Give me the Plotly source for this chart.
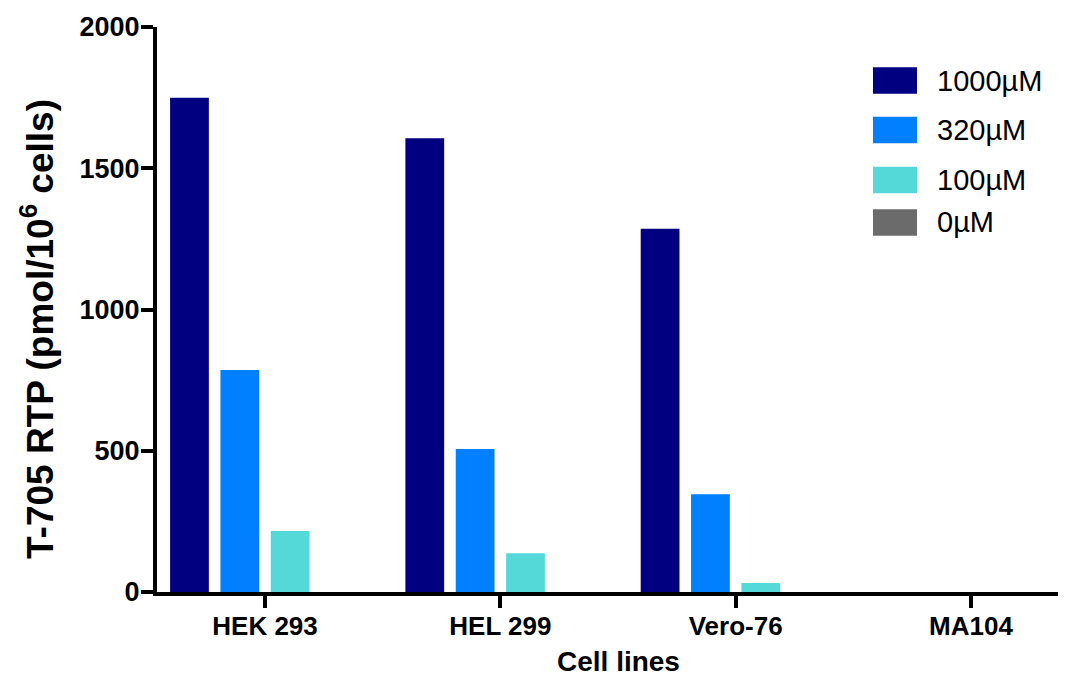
import plotly.graph_objects as go

# Cell lines on the x axis
cell_lines = ["HEK 293", "HEL 299", "Vero-76", "MA104"]

# T-705 RTP levels (pmol/10^6 cells) for each extracellular T-705 concentration
rtp_1000uM = [1750, 1606, 1286, 0]
rtp_320uM = [786, 506, 346, 0]
rtp_100uM = [216, 137, 32, 0]
rtp_0uM = [0, 0, 0, 0]

series_names = ["1000µM", "320µM", "100µM", "0µM"]
series_values = [rtp_1000uM, rtp_320uM, rtp_100uM, rtp_0uM]
series_colors = ["#000080", "#0080FF", "#55D8D8", "#6B6B6B"]

y_ticks = [0, 500, 1000, 1500, 2000]

FONT = "Liberation Sans, Arial, Helvetica, sans-serif"

fig = go.Figure()
for name, vals, col in zip(series_names, series_values, series_colors):
    fig.add_trace(go.Bar(
        x=cell_lines, y=vals, name=name,
        marker=dict(color=col, line=dict(width=0)),
        showlegend=False,
    ))

# Plot-area geometry in pixels (used for the hand-drawn legend and titles)
W, H = 1068, 678
ML, MR, MT, MB = 157, 10, 27, 86
PW, PH = W - ML - MR, H - MT - MB


def px_to_paper(px, py):
    return (px - ML) / PW, (H - MB - py) / PH


shapes = []
annotations = []
legend_rows = [80.5, 130.0, 180.0, 222.5]
for name, col, cy in zip(series_names, series_colors, legend_rows):
    x0, y0 = px_to_paper(873, cy + 13.3)
    x1, y1 = px_to_paper(917, cy - 13.3)
    shapes.append(dict(type="rect", xref="paper", yref="paper",
                       x0=x0, x1=x1, y0=y0, y1=y1,
                       fillcolor=col, line=dict(width=0)))
    tx, ty = px_to_paper(935, cy)
    annotations.append(dict(xref="paper", yref="paper", x=tx, y=ty,
                            xanchor="left", yanchor="middle", showarrow=False,
                            text=name, font=dict(family=FONT, size=29, color="black")))

# Axis titles
tx, ty = px_to_paper(37, 329)
annotations.append(dict(xref="paper", yref="paper", x=tx, y=ty,
                        xanchor="center", yanchor="middle", showarrow=False,
                        textangle=-90,
                        text="<b>T-705 RTP (pmol/10<sup>6</sup> cells)</b>",
                        font=dict(family=FONT, size=37, color="black")))
tx, ty = px_to_paper(618, 661)
annotations.append(dict(xref="paper", yref="paper", x=tx, y=ty,
                        xanchor="center", yanchor="middle", showarrow=False,
                        text="<b>Cell lines</b>",
                        font=dict(family=FONT, size=28, color="black")))

fig.update_layout(
    width=W, height=H,
    margin=dict(l=ML, r=MR, t=MT, b=MB, pad=0),
    plot_bgcolor="white", paper_bgcolor="white",
    barmode="group", bargap=0.144, bargroupgap=0.23,
    shapes=shapes, annotations=annotations,
    font=dict(family=FONT, color="black"),
    xaxis=dict(
        range=[-0.459, 3.370], automargin=False,
        showline=True, linecolor="black", linewidth=4,
        ticks="outside", ticklen=12, tickwidth=4, tickcolor="black",
        ticklabelstandoff=-4,
        tickfont=dict(family=FONT, size=26, color="black", weight="bold"),
        showgrid=False, zeroline=False,
    ),
    yaxis=dict(
        range=[0, 2000], tickvals=y_ticks, automargin=False,
        showline=True, linecolor="black", linewidth=4,
        ticks="outside", ticklen=12, tickwidth=4, tickcolor="black",
        ticklabelstandoff=-4,
        tickfont=dict(family=FONT, size=27, color="black", weight="bold"),
        showgrid=False, zeroline=False,
    ),
)

fig.write_html("out.html")
